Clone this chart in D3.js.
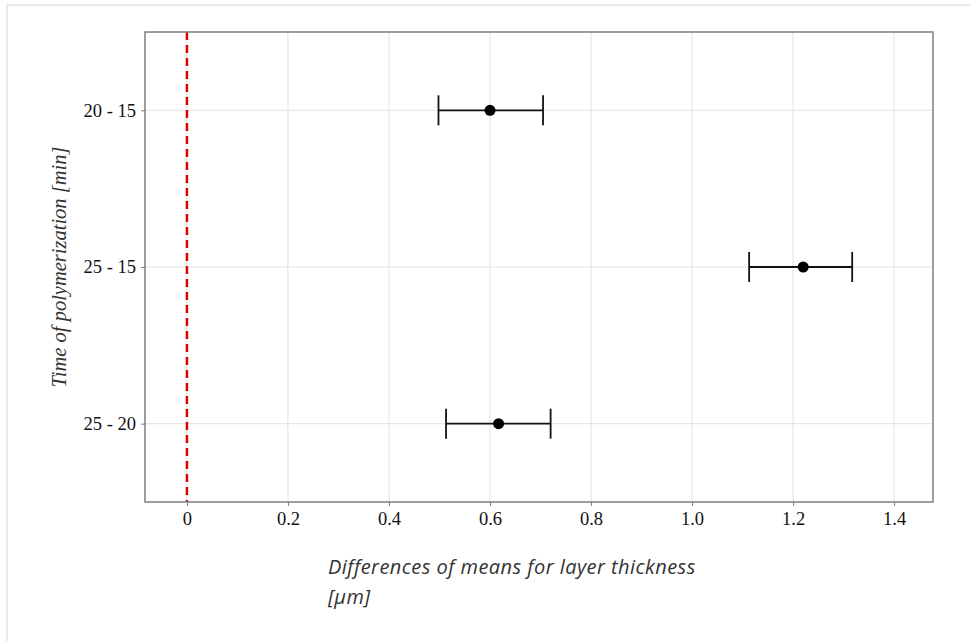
<!DOCTYPE html>
<html>
<head>
<meta charset="utf-8">
<script src="https://cdn.jsdelivr.net/npm/d3@7"></script>
<style>
  body { margin: 0; background: #fff; }
  svg { display: block; }
</style>
</head>
<body>
<div id="chart"></div>
<script>
// Data
const comparisons = ["20 - 15", "25 - 15", "25 - 20"];
const diffs = [0.600, 1.220, 0.617];
const lower = [0.498, 1.113, 0.513];
const upper = [0.705, 1.317, 0.720];
const xTicks = [0, 0.2, 0.4, 0.6, 0.8, 1.0, 1.2, 1.4];

const width = 970, height = 641;
const margins = { top: 32, right: 37, bottom: 139, left: 145 };

const svg = d3.select("#chart").append("svg")
    .attr("width", width)
    .attr("height", height);

// outer frame
svg.append("rect")
    .attr("x", 7).attr("y", 5)
    .attr("width", width).attr("height", height)
    .attr("fill", "none")
    .attr("stroke", "#e3e3e3")
    .attr("stroke-width", 1.5);

const x = d3.scaleLinear()
    .domain([-0.083, 1.477])
    .range([margins.left, width - margins.right]);
const y = d3.scalePoint()
    .domain(comparisons)
    .range([margins.top, height - margins.bottom])
    .padding(0.5);

// grid
svg.append("g").selectAll("line")
    .data(xTicks)
    .join("line")
    .attr("x1", d => x(d)).attr("x2", d => x(d))
    .attr("y1", margins.top).attr("y2", height - margins.bottom)
    .attr("stroke", "#e6e6e6").attr("stroke-width", 1.2);
svg.append("g").selectAll("line")
    .data(comparisons)
    .join("line")
    .attr("x1", margins.left).attr("x2", width - margins.right)
    .attr("y1", d => y(d)).attr("y2", d => y(d))
    .attr("stroke", "#e6e6e6").attr("stroke-width", 1.2);

// zero reference line
svg.append("line")
    .attr("x1", x(0)).attr("x2", x(0))
    .attr("y1", margins.top).attr("y2", height - margins.bottom)
    .attr("stroke", "#e00000")
    .attr("stroke-width", 2.5)
    .attr("stroke-dasharray", "8,5");

// error bars
const rows = comparisons.map((c, i) => ({ c, d: diffs[i], lo: lower[i], hi: upper[i] }));
const bars = svg.append("g").attr("stroke", "#111").attr("stroke-width", 1.8);
bars.selectAll(".h").data(rows).join("line")
    .attr("x1", d => x(d.lo)).attr("x2", d => x(d.hi))
    .attr("y1", d => y(d.c)).attr("y2", d => y(d.c));
bars.selectAll(".l").data(rows).join("line")
    .attr("x1", d => x(d.lo)).attr("x2", d => x(d.lo))
    .attr("y1", d => y(d.c) - 15).attr("y2", d => y(d.c) + 15);
bars.selectAll(".r").data(rows).join("line")
    .attr("x1", d => x(d.hi)).attr("x2", d => x(d.hi))
    .attr("y1", d => y(d.c) - 15).attr("y2", d => y(d.c) + 15);

svg.append("g").selectAll("circle")
    .data(rows)
    .join("circle")
    .attr("cx", d => x(d.d))
    .attr("cy", d => y(d.c))
    .attr("r", 5.5)
    .attr("fill", "#000");

// panel border
svg.append("rect")
    .attr("x", margins.left).attr("y", margins.top)
    .attr("width", width - margins.right - margins.left)
    .attr("height", height - margins.bottom - margins.top)
    .attr("fill", "none")
    .attr("stroke", "#7f7f7f")
    .attr("stroke-width", 1.5);

// axes
svg.append("g")
    .attr("transform", `translate(0,${height - margins.bottom})`)
    .call(d3.axisBottom(x).tickValues(xTicks).tickSize(4).tickPadding(6)
        .tickFormat(d => d === 0 ? "0" : d3.format(".1f")(d)))
    .call(g => g.select(".domain").remove())
    .call(g => g.selectAll("line").attr("stroke", "#7f7f7f"))
    .call(g => g.selectAll("text")
        .attr("fill", "#111")
        .style("font-family", "'Liberation Serif', 'DejaVu Serif', serif")
        .style("font-size", "18.5px"));

svg.append("g")
    .attr("transform", `translate(${margins.left},0)`)
    .call(d3.axisLeft(y).tickSize(4).tickPadding(5))
    .call(g => g.select(".domain").remove())
    .call(g => g.selectAll("line").attr("stroke", "#7f7f7f"))
    .call(g => g.selectAll("text")
        .attr("fill", "#111")
        .style("font-family", "'Liberation Serif', 'DejaVu Serif', serif")
        .style("font-size", "18.5px"));

// axis titles
const xt = svg.append("text")
    .attr("x", 328).attr("y", 574)
    .attr("fill", "#333")
    .style("font-family", "'Open Sans', 'DejaVu Sans', sans-serif")
    .style("font-style", "italic")
    .style("font-size", "20px")
    .style("letter-spacing", "0.45px");
xt.append("tspan").attr("x", 328).text("Differences of means for layer thickness");
xt.append("tspan").attr("x", 328).attr("dy", 30).text("[μm]");

svg.append("text")
    .attr("transform", `translate(66,${(margins.top + height - margins.bottom) / 2}) rotate(-90)`)
    .attr("text-anchor", "middle")
    .attr("fill", "#333")
    .style("font-family", "'Liberation Serif', 'DejaVu Serif', serif")
    .style("font-style", "italic")
    .style("font-size", "20.5px")
    .text("Time of polymerization [min]");
</script>
</body>
</html>
